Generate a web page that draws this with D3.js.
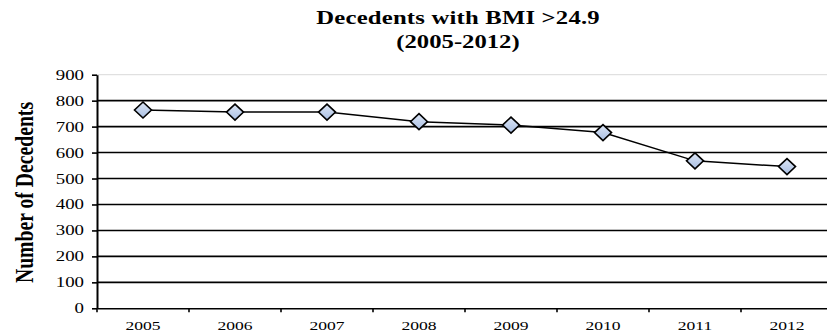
<!DOCTYPE html>
<html><head><meta charset="utf-8">
<script src="https://cdn.jsdelivr.net/npm/d3@7"></script>
<style>body{margin:0;background:#fff}svg{display:block}</style>
</head><body><svg id="c" width="827" height="333"></svg>
<script>
const years = ["2005","2006","2007","2008","2009","2010","2011","2012"];
const decedents = [764, 756, 756, 719, 706, 677, 568, 546];
const yTicks = [0,100,200,300,400,500,600,700,800,900];
const titleLines = ["Decedents with BMI >24.9","(2005-2012)"];
const yLabel = "Number of Decedents";

const svg = d3.select("#c");
const m = {left:97, top:74.7, right:833, bottom:308.3};
const x = d3.scaleBand().domain(years).range([m.left, m.right]);
const y = d3.scaleLinear().domain([0,900]).range([m.bottom, m.top]);
const font = "'Liberation Serif','Times New Roman',serif";
const SX = 1.3; // horizontal stretch of text seen in the reference

// gridlines
svg.append("g").selectAll("line").data(yTicks.filter(d=>d>0)).join("line")
  .attr("x1", m.left).attr("x2", m.right)
  .attr("y1", d=>y(d)).attr("y2", d=>y(d))
  .attr("stroke", d=>d===900?"#d9d9d9":"#000")
  .attr("stroke-width", d=>d===900?1:1.6);

// y axis
const ya = svg.append("g").attr("transform",`translate(${m.left},0)`)
  .call(d3.axisLeft(y).tickValues(yTicks).tickSize(5).tickFormat("").tickSizeOuter(0));
ya.select(".domain").attr("stroke","#000").attr("stroke-width",2);
ya.selectAll(".tick line").attr("stroke","#000").attr("stroke-width",1.6);
svg.append("g").selectAll("text").data(yTicks).join("text")
  .attr("transform", d=>`translate(84,${y(d)+5}) scale(${SX},1)`)
  .attr("text-anchor","end").attr("font-family",font).attr("font-size",14.5).attr("fill","#000")
  .text(d=>d);

// x axis
const xa = svg.append("g").attr("transform",`translate(0,${m.bottom})`)
  .call(d3.axisBottom(x).tickSize(0).tickFormat(""));
xa.select(".domain").attr("stroke","#000").attr("stroke-width",1.6);
svg.append("g").selectAll("line").data(years).join("line")
  .attr("x1", d=>x(d)).attr("x2", d=>x(d))
  .attr("y1", m.bottom).attr("y2", m.bottom+4)
  .attr("stroke","#000").attr("stroke-width",1.6);
svg.append("g").selectAll("text").data(years).join("text")
  .attr("transform", d=>`translate(${x(d)+x.bandwidth()/2},${m.bottom+22}) scale(${SX},1)`)
  .attr("text-anchor","middle").attr("font-family",font).attr("font-size",13.5).attr("fill","#000")
  .text(d=>d);

// line
const cx = d=>x(d)+x.bandwidth()/2;
svg.append("path").datum(decedents)
  .attr("fill","none").attr("stroke","#000").attr("stroke-width",1.5)
  .attr("d", d3.line().x((d,i)=>cx(years[i])).y(d=>y(d)));

// marker gradient
const defs = svg.append("defs");
const g = defs.append("linearGradient").attr("id","mk").attr("x1",0).attr("y1",0).attr("x2",0).attr("y2",1);
g.append("stop").attr("offset","0%").attr("stop-color","#dde6f5");
g.append("stop").attr("offset","100%").attr("stop-color","#a9bfe3");

svg.append("g").selectAll("path").data(decedents).join("path")
  .attr("transform",(d,i)=>`translate(${cx(years[i])},${y(d)})`)
  .attr("d","M0,-8L8.5,0L0,8L-8.5,0Z")
  .attr("fill","url(#mk)").attr("stroke","#000").attr("stroke-width",1.6);

// title
const tl = svg.append("g").selectAll("text").data(titleLines).join("text")
  .attr("transform",(d,i)=>`translate(458,${24+i*24}) scale(${SX},1)`)
  .attr("text-anchor","middle").attr("font-family",font).attr("font-weight","bold")
  .attr("font-size",19).text(d=>d);
tl.filter((d,i)=>i===0).attr("textLength",218).attr("lengthAdjust","spacing");

// y label
svg.append("text").attr("transform","translate(33,192.5) rotate(-90) scale(1,1.33)")
  .attr("text-anchor","middle").attr("font-family",font).attr("font-weight","bold")
  .attr("font-size",19.7).text(yLabel);
</script></body></html>
